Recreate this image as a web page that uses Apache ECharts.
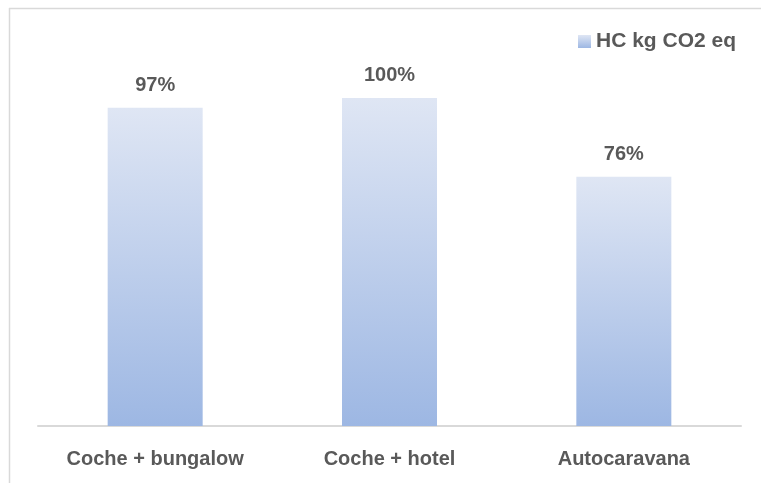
<!DOCTYPE html>
<html>
<head>
<meta charset="utf-8">
<style>
  html, body { margin: 0; padding: 0; background: #fff; }
  #chart { width: 761px; height: 483px; }
</style>
<script src="https://cdn.jsdelivr.net/npm/echarts@6/dist/echarts.min.js"></script>
</head>
<body>
<div id="chart"></div>
<script>
const categories = ['Coche + bungalow', 'Coche + hotel', 'Autocaravana'];
const seriesName = 'HC kg CO2 eq';
const values = [97, 100, 76];

const chart = echarts.init(document.getElementById('chart'));
const makeFill = () => new echarts.graphic.LinearGradient(0, 0, 0, 1, [
  { offset: 0, color: '#dfe6f4' },
  { offset: 1, color: '#9db7e3' }
]);
const textFont = 'Liberation Sans, Arial, sans-serif';

chart.setOption({
  animation: false,
  backgroundColor: '#ffffff',
  graphic: [
    { type: 'line', shape: { x1: 9.5, y1: 8, x2: 9.5, y2: 483 }, style: { stroke: '#d9d9d9', lineWidth: 1.5 } },
    { type: 'line', shape: { x1: 9, y1: 8.5, x2: 761, y2: 8.5 }, style: { stroke: '#d9d9d9', lineWidth: 1.5 } }
  ],
  legend: {
    show: true,
    right: 20,
    top: 26,
    icon: 'rect',
    itemWidth: 13,
    itemHeight: 13,
    itemGap: 8,
    textStyle: { color: '#595959', fontWeight: 'bold', fontSize: 21, fontFamily: textFont },
    data: [{ name: seriesName, itemStyle: { color: makeFill() } }]
  },
  grid: { left: 38, right: 20, top: 32.4, bottom: 57, containLabel: false },
  xAxis: {
    type: 'category',
    data: categories,
    axisLine: { lineStyle: { color: '#d9d9d9', width: 2 } },
    axisTick: { show: false },
    axisLabel: { color: '#595959', fontWeight: 'bold', fontSize: 20, fontFamily: textFont, margin: 23 }
  },
  yAxis: {
    type: 'value',
    min: 0,
    max: 120,
    show: false,
    splitLine: { show: false }
  },
  series: [{
    name: seriesName,
    type: 'bar',
    data: values,
    barWidth: 95,
    itemStyle: { color: makeFill() },
    label: {
      show: true,
      position: 'top',
      distance: 12.5,
      formatter: p => p.value + '%',
      color: '#595959',
      fontWeight: 'bold',
      fontSize: 20,
      fontFamily: textFont
    }
  }]
});
</script>
</body>
</html>
